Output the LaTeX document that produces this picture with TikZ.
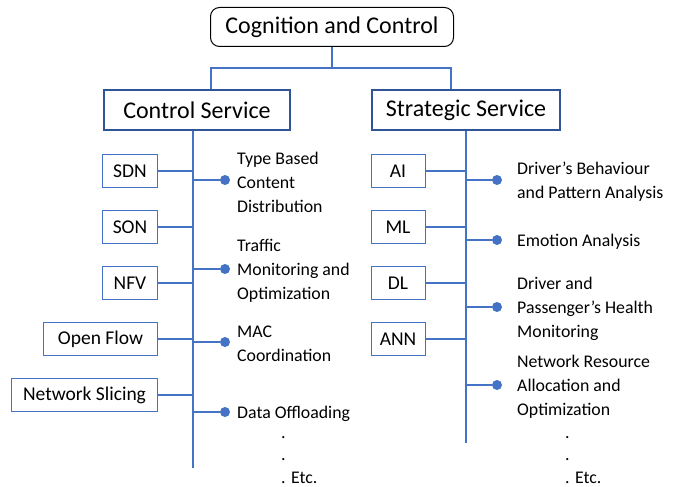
\documentclass[tikz,border=0pt]{standalone}
\usepackage{fontspec}
\setmainfont{Carlito}
\usetikzlibrary{positioning}

\definecolor{lineblue}{HTML}{4472C4}
\definecolor{boxblue}{HTML}{2F5597}

\tikzset{
  root box/.style={draw=black, line width=1pt, rounded corners=9pt,
    minimum width=243pt, minimum height=39pt, font=\fontsize{24}{28}\selectfont},
  service box/.style={draw=boxblue, line width=1.6pt, minimum width=186pt,
    minimum height=40pt, font=\fontsize{24}{28}\selectfont},
  tech box/.style={draw=lineblue, line width=1pt, minimum height=33pt,
    font=\fontsize{19.5}{22}\selectfont},
  item/.style={anchor=west, align=left, inner sep=0pt,
    font=\fontsize{17.8}{24}\selectfont},
  bullet/.style={circle, fill=lineblue, inner sep=0pt, minimum size=10pt},
  link/.style={draw=lineblue, line width=1.3pt},
}

\begin{document}
\begin{tikzpicture}[x=1pt,y=-1pt]
  \useasboundingbox (0,0) rectangle (683,487);

  \node [root box] (root) at (332,27) {Cognition and Control};
  \node [service box] (ctrl) at (197,110) {Control Service};
  \node [service box, minimum width=188pt] (strat) at (466,110) {Strategic Service};

  \draw [link] (root.south) -- ++(0,21) coordinate (join);
  \draw [link] (ctrl.north) ++(14,0) |- (join) -| ([xshift=-15pt]strat.north);

  % trunks
  \coordinate (ctrl-end) at (193,468);
  \coordinate (strat-end) at (466,443);
  \draw [link] (ctrl.south -| ctrl-end) -- (ctrl-end);
  \draw [link] (strat.south) -- (strat-end);

  % enabling technologies
  \foreach \name/\w/\y [count=\i] in {SDN/55/171, SON/55/227, NFV/55/283,
      Open Flow/114/339, Network Slicing/146/395}
  \node [tech box, anchor=east, minimum width=\w pt] (ctrl-\i) at (158,\y) {\name};

  \foreach \name/\y [count=\i] in {AI/171, ML/227, DL/283, ANN/339}
  \node [tech box, minimum width=54pt] (strat-\i) at (398,\y) {\name};

  \foreach \i in {1,...,5}
  \draw [link] (ctrl-\i) -- (ctrl-\i -| ctrl-end);

  \foreach \i in {1,...,4}
  \draw [link] (strat-\i) -- (strat-\i -| strat-end);

  % services
  \foreach \txt/\y [count=\i] in {{Type Based\\Content\\Distribution}/180,
      {Traffic\\Monitoring and\\Optimization}/269, {MAC\\Coordination}/342,
      {Data Offloading}/412}
  {
    \node [bullet] (ctrldot-\i) at (225,\y) {};
    \node [item, right=12pt of ctrldot-\i.center, yshift=-2pt] (ctrlitem-\i) {\txt};
    \draw [link] (ctrldot-\i -| ctrl-end) -- (ctrldot-\i);
  }

  \foreach \txt/\y [count=\i] in {{Driver’s Behaviour\\and Pattern Analysis}/180,
      {Emotion Analysis}/240, {Driver and\\Passenger’s Health\\Monitoring}/307,
      {Network Resource\\Allocation and\\Optimization}/385}
  {
    \node [bullet] (stratdot-\i) at (497,\y) {};
    \node [item, right=20pt of stratdot-\i.center, yshift=-2pt] (stratitem-\i) {\txt};
    \draw [link] (stratdot-\i -| strat-end) -- (stratdot-\i);
  }

  % more to come
  \node [item] (ctrl-etc1) at (281,438) {.};
  \node [item] (ctrl-etc2) at (281,460) {.};
  \node [item] (ctrl-etc3) at (281,478) {. Etc.};
  \node [item] (strat-etc1) at (565,438) {.};
  \node [item] (strat-etc2) at (565,460) {.};
  \node [item] (strat-etc3) at (565,478) {. Etc.};
\end{tikzpicture}
\end{document}
